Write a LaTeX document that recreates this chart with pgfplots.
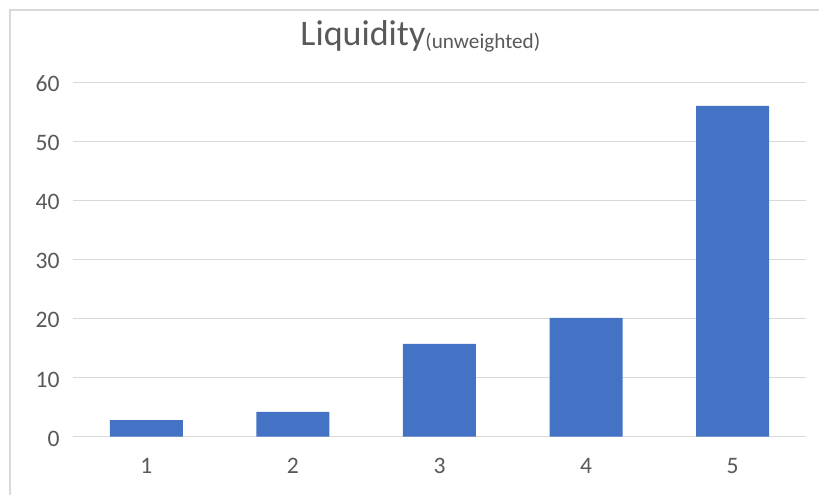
\documentclass[border=0pt]{standalone}
\usepackage{pgfplots}
\pgfplotsset{compat=1.18}
\usepackage{fontspec}
\setmainfont{Carlito}
\definecolor{barblue}{HTML}{4472C4}
\definecolor{gridgray}{HTML}{D9D9D9}
\definecolor{textgray}{HTML}{595959}
\begin{document}
\begin{tikzpicture}
% canvas 819x495 px at 0.5pt per px
\useasboundingbox (0,0) rectangle (409.5pt,247.5pt);
\draw[gridgray, line width=0.6pt] (5pt,0pt) -- (5pt,242.5pt) -- (409.5pt,242.5pt);
\begin{axis}[
    at={(36.5pt,29.15pt)}, anchor=origin,
    scale only axis,
    width=366.5pt, height=177.2pt,
    xmin=0.5, xmax=5.5,
    ymin=0, ymax=60,
    xtick=data,
    ytick={0,10,...,60},
    axis line style={draw=none},
    major tick length=0pt,
    ymajorgrids,
    grid style={gridgray, line width=0.6pt},
    tick label style={font=\fontsize{11.8}{14}\selectfont, text=textgray, inner sep=0pt},
    /pgf/number format/assume math mode=true,
    yticklabel style={anchor=base east, xshift=-6.5pt, yshift=-4.7pt},
    xticklabel style={anchor=base, yshift=-18.15pt},
    clip=false,
]
\addplot[ybar, bar width=36.5pt, fill=barblue, draw=none] coordinates {
    (1,2.8) (2,4.2) (3,15.7) (4,20.1) (5,56.0)
};
\end{axis}
\node[anchor=base west, inner sep=0pt, text=textgray, font=\fontsize{18}{21}\selectfont] at (150pt,225pt)
    {Liquidity{\fontsize{10.6}{12}\selectfont\raisebox{-1.5pt}{(unweighted)}}};
\end{tikzpicture}
\end{document}
